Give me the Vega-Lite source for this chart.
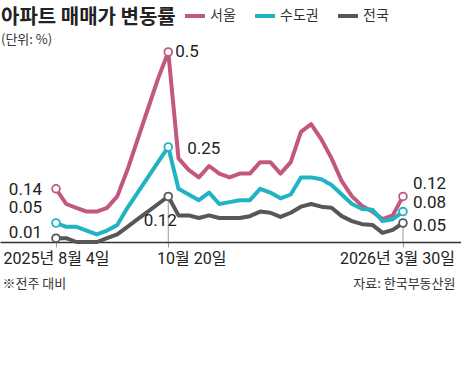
{
  "$schema": "https://vega.github.io/schema/vega-lite/v6.json",
  "width": 461,
  "height": 190,
  "autosize": {"type": "none"},
  "padding": {"left": 0, "top": 52, "right": 0, "bottom": 140},
  "background": "white",
  "title": {
    "text": "아파트 매매가 변동률",
    "subtitle": "(단위: %)",
    "anchor": "start",
    "frame": "group",
    "dx": 1,
    "dy": 51,
    "offset": 8,
    "font": "Noto Sans CJK KR",
    "fontSize": 20,
    "fontWeight": "bold",
    "color": "#222222",
    "subtitleFont": "Noto Sans CJK KR",
    "subtitleFontSize": 13,
    "subtitleColor": "#333333",
    "subtitlePadding": 6
  },
  "config": {"view": {"stroke": null}, "font": "Noto Sans CJK KR"},
  "data": {
    "values": [
      {"date": "2025-08-04", "region": "서울", "value": 0.14},
      {"date": "2025-08-11", "region": "서울", "value": 0.10},
      {"date": "2025-08-18", "region": "서울", "value": 0.09},
      {"date": "2025-08-25", "region": "서울", "value": 0.08},
      {"date": "2025-09-01", "region": "서울", "value": 0.08},
      {"date": "2025-09-08", "region": "서울", "value": 0.09},
      {"date": "2025-09-15", "region": "서울", "value": 0.12},
      {"date": "2025-09-22", "region": "서울", "value": 0.19},
      {"date": "2025-09-29", "region": "서울", "value": 0.27},
      {"date": "2025-10-06", "region": "서울", "value": 0.35},
      {"date": "2025-10-13", "region": "서울", "value": 0.43},
      {"date": "2025-10-20", "region": "서울", "value": 0.50},
      {"date": "2025-10-27", "region": "서울", "value": 0.22},
      {"date": "2025-11-03", "region": "서울", "value": 0.19},
      {"date": "2025-11-10", "region": "서울", "value": 0.17},
      {"date": "2025-11-17", "region": "서울", "value": 0.20},
      {"date": "2025-11-24", "region": "서울", "value": 0.18},
      {"date": "2025-12-01", "region": "서울", "value": 0.17},
      {"date": "2025-12-08", "region": "서울", "value": 0.18},
      {"date": "2025-12-15", "region": "서울", "value": 0.18},
      {"date": "2025-12-22", "region": "서울", "value": 0.21},
      {"date": "2025-12-29", "region": "서울", "value": 0.21},
      {"date": "2026-01-05", "region": "서울", "value": 0.18},
      {"date": "2026-01-12", "region": "서울", "value": 0.21},
      {"date": "2026-01-19", "region": "서울", "value": 0.29},
      {"date": "2026-01-26", "region": "서울", "value": 0.31},
      {"date": "2026-02-02", "region": "서울", "value": 0.27},
      {"date": "2026-02-09", "region": "서울", "value": 0.22},
      {"date": "2026-02-16", "region": "서울", "value": 0.16},
      {"date": "2026-02-23", "region": "서울", "value": 0.12},
      {"date": "2026-03-02", "region": "서울", "value": 0.095},
      {"date": "2026-03-09", "region": "서울", "value": 0.08},
      {"date": "2026-03-16", "region": "서울", "value": 0.06},
      {"date": "2026-03-23", "region": "서울", "value": 0.07},
      {"date": "2026-03-30", "region": "서울", "value": 0.12},
      {"date": "2025-08-04", "region": "수도권", "value": 0.05},
      {"date": "2025-08-11", "region": "수도권", "value": 0.04},
      {"date": "2025-08-18", "region": "수도권", "value": 0.04},
      {"date": "2025-08-25", "region": "수도권", "value": 0.03},
      {"date": "2025-09-01", "region": "수도권", "value": 0.02},
      {"date": "2025-09-08", "region": "수도권", "value": 0.03},
      {"date": "2025-09-15", "region": "수도권", "value": 0.045},
      {"date": "2025-09-22", "region": "수도권", "value": 0.09},
      {"date": "2025-09-29", "region": "수도권", "value": 0.13},
      {"date": "2025-10-06", "region": "수도권", "value": 0.17},
      {"date": "2025-10-13", "region": "수도권", "value": 0.21},
      {"date": "2025-10-20", "region": "수도권", "value": 0.25},
      {"date": "2025-10-27", "region": "수도권", "value": 0.14},
      {"date": "2025-11-03", "region": "수도권", "value": 0.125},
      {"date": "2025-11-10", "region": "수도권", "value": 0.11},
      {"date": "2025-11-17", "region": "수도권", "value": 0.13},
      {"date": "2025-11-24", "region": "수도권", "value": 0.10},
      {"date": "2025-12-01", "region": "수도권", "value": 0.105},
      {"date": "2025-12-08", "region": "수도권", "value": 0.11},
      {"date": "2025-12-15", "region": "수도권", "value": 0.11},
      {"date": "2025-12-22", "region": "수도권", "value": 0.14},
      {"date": "2025-12-29", "region": "수도권", "value": 0.13},
      {"date": "2026-01-05", "region": "수도권", "value": 0.115},
      {"date": "2026-01-12", "region": "수도권", "value": 0.125},
      {"date": "2026-01-19", "region": "수도권", "value": 0.17},
      {"date": "2026-01-26", "region": "수도권", "value": 0.17},
      {"date": "2026-02-02", "region": "수도권", "value": 0.165},
      {"date": "2026-02-09", "region": "수도권", "value": 0.15},
      {"date": "2026-02-16", "region": "수도권", "value": 0.125},
      {"date": "2026-02-23", "region": "수도권", "value": 0.10},
      {"date": "2026-03-02", "region": "수도권", "value": 0.087},
      {"date": "2026-03-09", "region": "수도권", "value": 0.085},
      {"date": "2026-03-16", "region": "수도권", "value": 0.055},
      {"date": "2026-03-23", "region": "수도권", "value": 0.06},
      {"date": "2026-03-30", "region": "수도권", "value": 0.08},
      {"date": "2025-08-04", "region": "전국", "value": 0.01},
      {"date": "2025-08-11", "region": "전국", "value": 0.01},
      {"date": "2025-08-18", "region": "전국", "value": 0.0},
      {"date": "2025-08-25", "region": "전국", "value": 0.0},
      {"date": "2025-09-01", "region": "전국", "value": 0.0},
      {"date": "2025-09-08", "region": "전국", "value": 0.01},
      {"date": "2025-09-15", "region": "전국", "value": 0.02},
      {"date": "2025-09-22", "region": "전국", "value": 0.04},
      {"date": "2025-09-29", "region": "전국", "value": 0.06},
      {"date": "2025-10-06", "region": "전국", "value": 0.08},
      {"date": "2025-10-13", "region": "전국", "value": 0.10},
      {"date": "2025-10-20", "region": "전국", "value": 0.12},
      {"date": "2025-10-27", "region": "전국", "value": 0.07},
      {"date": "2025-11-03", "region": "전국", "value": 0.07},
      {"date": "2025-11-10", "region": "전국", "value": 0.063},
      {"date": "2025-11-17", "region": "전국", "value": 0.07},
      {"date": "2025-11-24", "region": "전국", "value": 0.063},
      {"date": "2025-12-01", "region": "전국", "value": 0.063},
      {"date": "2025-12-08", "region": "전국", "value": 0.063},
      {"date": "2025-12-15", "region": "전국", "value": 0.068},
      {"date": "2025-12-22", "region": "전국", "value": 0.08},
      {"date": "2025-12-29", "region": "전국", "value": 0.077},
      {"date": "2026-01-05", "region": "전국", "value": 0.066},
      {"date": "2026-01-12", "region": "전국", "value": 0.077},
      {"date": "2026-01-19", "region": "전국", "value": 0.093},
      {"date": "2026-01-26", "region": "전국", "value": 0.10},
      {"date": "2026-02-02", "region": "전국", "value": 0.093},
      {"date": "2026-02-09", "region": "전국", "value": 0.09},
      {"date": "2026-02-16", "region": "전국", "value": 0.068},
      {"date": "2026-02-23", "region": "전국", "value": 0.055},
      {"date": "2026-03-02", "region": "전국", "value": 0.047},
      {"date": "2026-03-09", "region": "전국", "value": 0.045},
      {"date": "2026-03-16", "region": "전국", "value": 0.024},
      {"date": "2026-03-23", "region": "전국", "value": 0.032},
      {"date": "2026-03-30", "region": "전국", "value": 0.05}
    ]
  },
  "encoding": {
    "x": {
      "field": "date",
      "type": "temporal",
      "scale": {
        "type": "utc",
        "domain": [
          {"year": 2025, "month": 6, "date": 26, "hours": 14, "utc": true},
          {"year": 2026, "month": 5, "date": 8, "hours": 19, "utc": true}
        ]
      },
      "axis": {
        "values": [
          {"year": 2025, "month": 8, "date": 4, "utc": true},
          {"year": 2025, "month": 10, "date": 20, "utc": true},
          {"year": 2026, "month": 3, "date": 30, "utc": true}
        ],
        "labelExpr": "utcmonth(datum.value) == 7 ? '2025년 8월 4일' : utcmonth(datum.value) == 9 ? '10월 20일' : '2026년 3월 30일'",
        "labelOffset": {
          "condition": [
            {"test": "utcmonth(datum.value) == 9", "value": 23},
            {"test": "utcmonth(datum.value) == 2", "value": -6}
          ],
          "value": 0
        },
        "labelFont": "Roboto, Noto Sans CJK KR",
        "labelFontSize": 16,
        "labelColor": "#222222",
        "labelPadding": 3,
        "labelFlush": false,
        "labelOverlap": false,
        "ticks": true,
        "tickSize": 5,
        "tickColor": "#999999",
        "domainColor": "#333333",
        "domainWidth": 1.5,
        "grid": false,
        "title": "※전주 대비",
        "titleFont": "Noto Sans CJK KR",
        "titleFontSize": 13,
        "titleFontWeight": "normal",
        "titleColor": "#333333",
        "titleAnchor": "start",
        "titleAlign": "left",
        "titleBaseline": "middle",
        "titleX": 2,
        "titleY": 41
      }
    },
    "y": {
      "field": "value",
      "type": "quantitative",
      "scale": {"domain": [0, 0.5], "nice": false, "zero": true},
      "axis": {
        "orient": "right",
        "domain": false,
        "ticks": false,
        "labels": false,
        "grid": false,
        "title": "자료: 한국부동산원",
        "titleAngle": 0,
        "titleAlign": "right",
        "titleBaseline": "middle",
        "titleX": -6,
        "titleY": 231,
        "titleFont": "Noto Sans CJK KR",
        "titleFontSize": 13,
        "titleFontWeight": "normal",
        "titleColor": "#333333"
      }
    }
  },
  "layer": [
    {
      "transform": [
        {"filter": "datum.region == '전국' && (utcmonth(datum.date) == 9 && utcdate(datum.date) == 20 || utcmonth(datum.date) == 2 && utcdate(datum.date) == 30)"}
      ],
      "mark": {"type": "rule", "color": "#9a9a9a", "strokeWidth": 1},
      "encoding": {"y2": {"datum": 0}}
    },
    {
      "mark": {"type": "line", "strokeWidth": 4, "strokeJoin": "round", "strokeCap": "round"},
      "encoding": {
        "color": {
          "field": "region",
          "type": "nominal",
          "scale": {"domain": ["서울", "수도권", "전국"], "range": ["#c2587f", "#20b3c1", "#575757"]},
          "legend": {
            "orient": "none",
            "legendX": 183,
            "legendY": -48,
            "direction": "horizontal",
            "title": null,
            "symbolType": "stroke",
            "symbolStrokeWidth": 4,
            "symbolSize": 400,
            "labelFont": "Noto Sans CJK KR",
            "labelFontSize": 14,
            "labelColor": "#333333",
            "labelOffset": 3,
            "columnPadding": 11,
            "padding": 0
          }
        }
      }
    },
    {
      "transform": [
        {"filter": "(utcmonth(datum.date) == 7 && utcdate(datum.date) == 4) || (utcmonth(datum.date) == 9 && utcdate(datum.date) == 20) || (utcmonth(datum.date) == 2 && utcdate(datum.date) == 30)"}
      ],
      "mark": {"type": "point", "filled": false, "fill": "white", "fillOpacity": 1, "opacity": 1, "size": 60, "strokeWidth": 1.8},
      "encoding": {
        "color": {"field": "region", "type": "nominal", "legend": null}
      }
    },
    {
      "transform": [{"filter": "utcmonth(datum.date) == 7 && utcdate(datum.date) == 4"}],
      "mark": {"type": "text", "align": "right", "baseline": "middle", "dx": -14, "dy": {"expr": "datum.region == '서울' ? 1 : datum.region == '수도권' ? -15 : -5"}, "font": "Roboto", "fontSize": 17, "color": "#222222"},
      "encoding": {"text": {"field": "value", "type": "quantitative", "format": ".2~f"}}
    },
    {
      "transform": [{"filter": "utcmonth(datum.date) == 2 && utcdate(datum.date) == 30"}],
      "mark": {"type": "text", "align": "left", "baseline": "middle", "dx": 10, "dy": {"expr": "datum.region == '서울' ? -12 : datum.region == '수도권' ? -9 : 3"}, "font": "Roboto", "fontSize": 17, "color": "#222222"},
      "encoding": {"text": {"field": "value", "type": "quantitative", "format": ".2~f"}}
    },
    {
      "transform": [{"filter": "utcmonth(datum.date) == 9 && utcdate(datum.date) == 20 && datum.region != '전국'"}],
      "mark": {"type": "text", "align": "left", "baseline": "middle", "dx": {"expr": "datum.region == '서울' ? 7 : 19"}, "dy": {"expr": "datum.region == '서울' ? 0 : 2"}, "font": "Roboto", "fontSize": 17, "color": "#222222"},
      "encoding": {"text": {"field": "value", "type": "quantitative", "format": ".2~f"}}
    },
    {
      "transform": [{"filter": "utcmonth(datum.date) == 9 && utcdate(datum.date) == 20 && datum.region == '전국'"}],
      "mark": {"type": "text", "align": "center", "baseline": "middle", "dx": -8, "dy": 25, "font": "Roboto", "fontSize": 17, "color": "#222222"},
      "encoding": {"text": {"field": "value", "type": "quantitative", "format": ".2~f"}}
    }
  ]
}
